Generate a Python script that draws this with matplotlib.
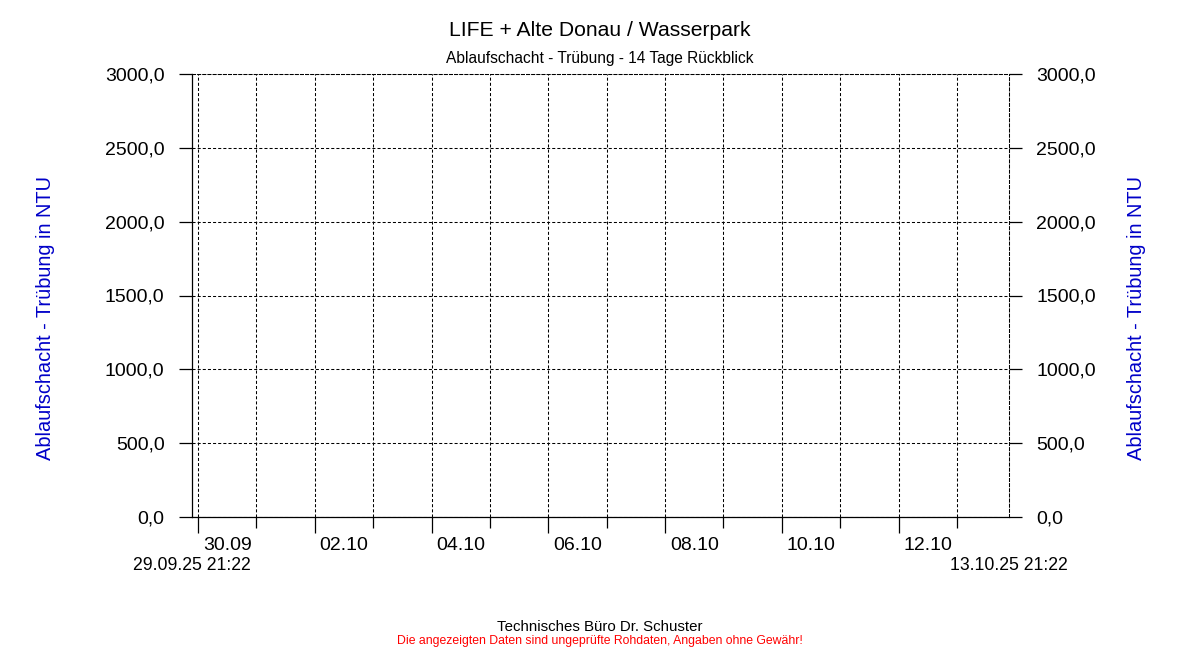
import datetime as dt
import matplotlib
matplotlib.use("Agg")
import matplotlib.pyplot as plt
import matplotlib.dates as mdates
import matplotlib.transforms as mtransforms
from matplotlib.ticker import FuncFormatter, FixedLocator

plt.rcParams['font.family'] = ['Liberation Sans', 'DejaVu Sans']
plt.rcParams['lines.scale_dashes'] = False

# Daten (14 Tage Rückblick, keine Messwerte vorhanden)
start = dt.datetime(2025, 9, 29, 21, 22)
end = dt.datetime(2025, 10, 13, 21, 22)
times = []          # Messzeitpunkte
truebung = []       # Trübung in NTU
y_ticks = [0, 500, 1000, 1500, 2000, 2500, 3000]
major_days = [dt.datetime(2025, 9, 30), dt.datetime(2025, 10, 2), dt.datetime(2025, 10, 4),
              dt.datetime(2025, 10, 6), dt.datetime(2025, 10, 8), dt.datetime(2025, 10, 10),
              dt.datetime(2025, 10, 12)]
minor_days = [dt.datetime(2025, 10, 1), dt.datetime(2025, 10, 3), dt.datetime(2025, 10, 5),
              dt.datetime(2025, 10, 7), dt.datetime(2025, 10, 9), dt.datetime(2025, 10, 11),
              dt.datetime(2025, 10, 13)]

title = 'LIFE + Alte Donau / Wasserpark'
subtitle = 'Ablaufschacht - Trübung - 14 Tage Rückblick'
ylabel = 'Ablaufschacht - Trübung in NTU'
blue = '#0000C8'
dash = (0, (2.2, 1.5))
px = 0.72  # 1 Pixel in Punkt bei dpi=100

fig = plt.figure(figsize=(12, 6.5), dpi=100)
ax = fig.add_axes([191.6 / 1200, 1 - 517 / 650, (1009 - 191.6) / 1200, (517 - 74) / 650])

ax.plot(times, truebung, color=blue, lw=1)

ax.set_xlim(start, end)
ax.set_ylim(0, 3000)
ax.set_yticks(y_ticks)
ax.yaxis.set_major_formatter(FuncFormatter(lambda v, p: f'{v:.1f}'.replace('.', ',')))

ax.xaxis.set_major_locator(FixedLocator(mdates.date2num(major_days)))
ax.xaxis.set_minor_locator(FixedLocator(mdates.date2num(minor_days)))
ax.xaxis.set_major_formatter(FuncFormatter(lambda v, p: ''))
ax.xaxis.set_minor_formatter(FuncFormatter(lambda v, p: ''))

ax.grid(True, which='both', color='black', lw=0.75, linestyle=dash)

for s in ['left', 'bottom']:
    ax.spines[s].set_linewidth(0.9)
for s in ['top', 'right']:
    ax.spines[s].set_linestyle(dash)
    ax.spines[s].set_linewidth(0.75)

ax.tick_params(axis='y', which='both', left=True, right=True, labelleft=True, labelright=True,
               direction='out', length=13 * px, width=0.9, pad=14 * px, labelsize=14)
ax.tick_params(axis='x', which='major', direction='out', length=16 * px, width=0.9)
ax.tick_params(axis='x', which='minor', direction='out', length=11 * px, width=0.9)

# Datumsbeschriftung jeweils mittig im Tag
trans = mtransforms.blended_transform_factory(ax.transData, fig.transFigure)
for d in major_days:
    ax.text(d + dt.timedelta(hours=12), 1 - 545 / 650, d.strftime('%d.%m'), transform=trans,
            ha='center', va='center', fontsize=14)
ax.text(start, 1 - 565 / 650, start.strftime('%d.%m.%y %H:%M'), transform=trans,
        ha='center', va='center', fontsize=12.7)
ax.text(end, 1 - 565 / 650, end.strftime('%d.%m.%y %H:%M'), transform=trans,
        ha='center', va='center', fontsize=12.7)

fig.text(0.5, 1 - 30 / 650, title, ha='center', va='center', fontsize=15.2)
fig.text(0.5, 1 - 59 / 650, subtitle, ha='center', va='center', fontsize=11.2)
fig.text(46 / 1200, 1 - 318 / 650, ylabel, rotation=90, ha='center', va='center',
         fontsize=14.4, color=blue)
fig.text(1137 / 1200, 1 - 318 / 650, ylabel, rotation=90, ha='center', va='center',
         fontsize=14.4, color=blue)

fig.text(0.5, 1 - 627 / 650, 'Technisches Büro Dr. Schuster', ha='center', va='center', fontsize=10.8)
fig.text(0.5, 1 - 641 / 650, 'Die angezeigten Daten sind ungeprüfte Rohdaten, Angaben ohne Gewähr!',
         ha='center', va='center', fontsize=8.8, color='#FF0000')

fig.savefig('out.png', dpi=100)
